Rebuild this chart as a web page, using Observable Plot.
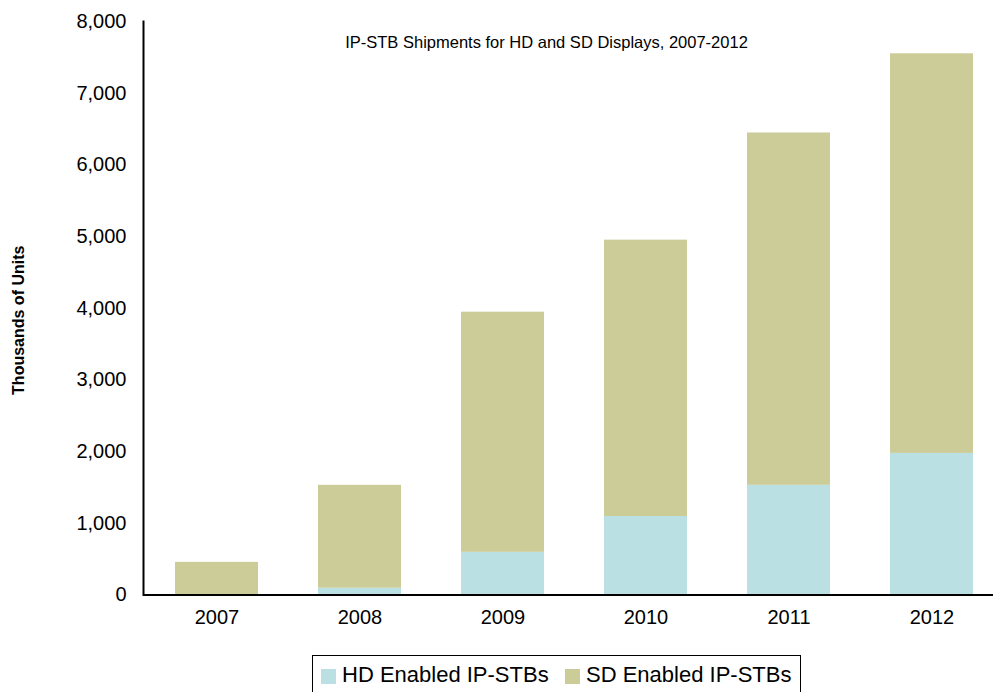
<!DOCTYPE html>
<html>
<head>
<meta charset="utf-8">
<script src="https://cdn.jsdelivr.net/npm/d3@7"></script>
<script src="https://cdn.jsdelivr.net/npm/@observablehq/plot@0.6"></script>
<style>
  body { margin: 0; background: #fff; font-family: "Liberation Sans", Arial, sans-serif; }
  #wrap { position: relative; width: 993px; height: 692px; overflow: hidden; }
  #legend { position: absolute; left: 312px; top: 655px; width: 489px; height: 44px; border: 1px solid #000; box-sizing: border-box; font-size: 22px; color: #000; }
  .sw { position: absolute; top: 13px; width: 15px; height: 15px; }
  .lt { position: absolute; top: 8px; line-height: 22px; white-space: nowrap; }
</style>
</head>
<body>
<div id="wrap"></div>
<script>
const years = ["2007", "2008", "2009", "2010", "2011", "2012"];
const seriesNames = ["HD Enabled IP-STBs", "SD Enabled IP-STBs"];
const hdValues = [0, 95, 595, 1095, 1530, 1975];
const sdValues = [455, 1435, 3350, 3855, 4915, 5575];
const colors = ["#bbe0e3", "#cccc99"];
const yTicks = [0, 1000, 2000, 3000, 4000, 5000, 6000, 7000, 8000];
const title = "IP-STB Shipments for HD and SD Displays, 2007-2012";
const yLabel = "Thousands of Units";

const data = [];
years.forEach((y, i) => {
  data.push({year: y, series: seriesNames[0], value: hdValues[i]});
  data.push({year: y, series: seriesNames[1], value: sdValues[i]});
});

const chart = Plot.plot({
  width: 993,
  height: 640,
  marginLeft: 143,
  marginRight: 0,
  marginTop: 21,
  marginBottom: 45.5,
  style: {fontFamily: "Liberation Sans, Arial, sans-serif", fontSize: "20px", color: "#000", background: "#fff"},
  x: {domain: years, range: [143, 1004.6], paddingInner: 0.42, paddingOuter: 0.21, label: null},
  y: {domain: [0, 8000], label: null},
  color: {domain: seriesNames, range: colors},
  marks: [
    Plot.barY(data, {x: "year", y: "value", fill: "series"}),
    Plot.axisY({ticks: yTicks, tickSize: 0, tickPadding: 17, tickFormat: d3.format(","), label: null, fontSize: 20}),
    Plot.axisX({tickSize: 0, tickPadding: 15, label: null, fontSize: 20}),
    Plot.ruleY([0], {stroke: "#000", strokeWidth: 2}),
    Plot.frame({anchor: "left", stroke: "#000", strokeWidth: 2}),
    Plot.text([title], {frameAnchor: "top", lineAnchor: "middle", textAnchor: "middle", dx: -22, dy: 21, fontSize: 16.5, fill: "#000"}),
    Plot.text([yLabel], {frameAnchor: "left", textAnchor: "middle", lineAnchor: "middle", dx: -125, dy: 12, rotate: -90, fontSize: 16, fontWeight: "bold", fill: "#000"})
  ]
});

const wrap = document.getElementById("wrap");
wrap.appendChild(chart);

const legend = document.createElement("div");
legend.id = "legend";
const swX = [8, 252];
const txX = [29, 273];
seriesNames.forEach((name, i) => {
  const sw = document.createElement("div");
  sw.className = "sw";
  sw.style.left = swX[i] + "px";
  sw.style.background = colors[i];
  legend.appendChild(sw);
  const t = document.createElement("div");
  t.className = "lt";
  t.style.left = txX[i] + "px";
  t.textContent = name;
  legend.appendChild(t);
});
wrap.appendChild(legend);
</script>
</body>
</html>
